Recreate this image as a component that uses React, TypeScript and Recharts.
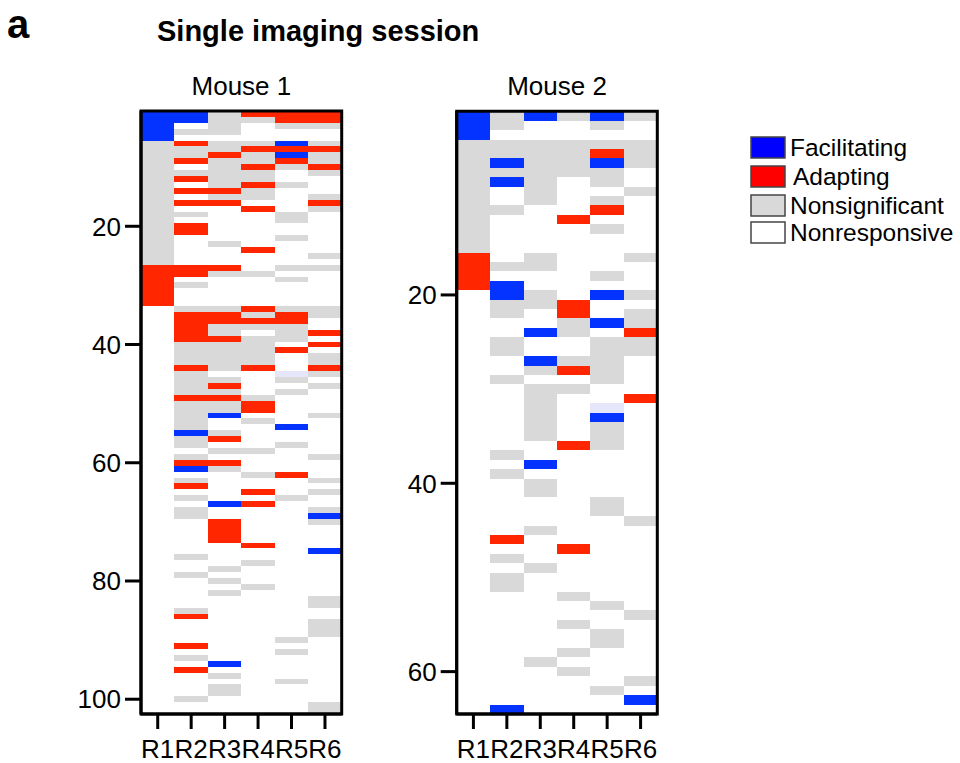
import React from "react";
import { ComposedChart, XAxis, YAxis, ReferenceArea } from "recharts";

// Response classes: F = facilitating, A = adapting, N = nonsignificant,
// L = faint trace. Rows not listed in a column are nonresponsive (white).
type Run = [string, number, number];

const responseLabels = ["R1", "R2", "R3", "R4", "R5", "R6"];

const mouse1RowCount = 102;
const mouse1Ticks = [20, 40, 60, 80, 100];

const m1R1: Run[] = [["F", 1, 5], ["N", 6, 26], ["A", 27, 33]];
const m1R2: Run[] = [
  ["F", 1, 2], ["N", 4, 4], ["A", 6, 6], ["N", 7, 8], ["A", 9, 9], ["N", 11, 11],
  ["A", 12, 12], ["A", 14, 14], ["A", 16, 16], ["N", 18, 18], ["A", 20, 21],
  ["A", 27, 28], ["N", 30, 30], ["N", 34, 34], ["A", 35, 39], ["N", 40, 43],
  ["A", 44, 44], ["N", 45, 48], ["A", 49, 49], ["N", 50, 54], ["F", 55, 55],
  ["N", 56, 57], ["N", 59, 59], ["A", 60, 60], ["F", 61, 61], ["N", 63, 63],
  ["A", 64, 64], ["N", 66, 66], ["N", 68, 69], ["N", 76, 76], ["N", 79, 79],
  ["N", 85, 85], ["A", 86, 86], ["A", 91, 91], ["N", 93, 93], ["A", 95, 95],
  ["N", 100, 100],
];
const m1R3: Run[] = [
  ["N", 1, 4], ["N", 6, 7], ["A", 8, 8], ["N", 9, 13], ["A", 14, 14], ["N", 15, 15],
  ["A", 16, 16], ["N", 23, 23], ["A", 27, 27], ["N", 28, 28], ["N", 34, 34],
  ["A", 35, 36], ["N", 37, 38], ["A", 39, 39], ["N", 40, 44], ["N", 46, 46],
  ["A", 47, 47], ["N", 48, 48], ["A", 49, 49], ["N", 50, 51], ["F", 52, 52],
  ["N", 55, 55], ["A", 56, 56], ["N", 58, 58], ["A", 60, 60], ["N", 61, 61],
  ["F", 67, 67], ["A", 70, 73], ["N", 78, 78], ["N", 80, 80], ["N", 82, 82],
  ["F", 94, 94], ["N", 96, 96], ["N", 98, 99],
];
const m1R4: Run[] = [
  ["A", 1, 1], ["N", 2, 2], ["N", 6, 6], ["A", 7, 7], ["N", 8, 9], ["A", 10, 10],
  ["N", 11, 12], ["A", 13, 13], ["N", 14, 15], ["A", 17, 17], ["A", 24, 24],
  ["N", 28, 28], ["A", 34, 34], ["N", 35, 35], ["A", 36, 36], ["N", 37, 37],
  ["N", 39, 43], ["A", 44, 44], ["N", 49, 49], ["A", 50, 51], ["N", 53, 53],
  ["N", 58, 58], ["N", 62, 62], ["A", 65, 65], ["A", 67, 67], ["A", 74, 74],
  ["N", 77, 77], ["N", 81, 81],
];
const m1R5: Run[] = [
  ["A", 1, 2], ["N", 3, 3], ["F", 6, 6], ["A", 7, 7], ["F", 8, 8], ["A", 9, 9],
  ["N", 10, 10], ["N", 13, 13], ["N", 18, 19], ["N", 22, 22], ["N", 27, 27],
  ["N", 29, 29], ["N", 34, 34], ["A", 35, 36], ["N", 37, 39], ["A", 41, 41],
  ["L", 45, 45], ["N", 46, 46], ["N", 48, 48], ["F", 54, 54], ["N", 57, 57],
  ["A", 62, 62], ["N", 66, 66], ["N", 90, 90], ["N", 92, 92], ["N", 97, 97],
];
const m1R6: Run[] = [
  ["A", 1, 2], ["N", 3, 3], ["N", 6, 6], ["A", 7, 7], ["N", 8, 9], ["A", 10, 10],
  ["N", 11, 11], ["N", 15, 15], ["A", 16, 16], ["N", 17, 17], ["N", 25, 25],
  ["N", 27, 27], ["N", 34, 35], ["A", 38, 38], ["A", 40, 40], ["N", 42, 43],
  ["A", 44, 44], ["N", 45, 45], ["N", 47, 47], ["N", 52, 52], ["N", 59, 59],
  ["N", 63, 63], ["N", 65, 65], ["N", 68, 68], ["F", 69, 69], ["N", 70, 70],
  ["F", 75, 75], ["N", 83, 84], ["N", 87, 89], ["N", 101, 102],
];

const mouse2RowCount = 64;
const mouse2Ticks = [20, 40, 60];

const m2R1: Run[] = [["F", 1, 3], ["N", 4, 15], ["A", 16, 19]];
const m2R2: Run[] = [
  ["N", 1, 2], ["N", 4, 5], ["F", 6, 6], ["N", 7, 7], ["F", 8, 8], ["N", 11, 11],
  ["N", 17, 17], ["F", 19, 20], ["N", 21, 22], ["N", 25, 26], ["N", 29, 29],
  ["N", 37, 37], ["N", 39, 39], ["A", 46, 46], ["N", 48, 48], ["N", 50, 51],
  ["F", 64, 64],
];
const m2R3: Run[] = [
  ["F", 1, 1], ["N", 4, 10], ["N", 16, 17], ["N", 20, 21], ["F", 24, 24],
  ["F", 27, 27], ["N", 28, 28], ["N", 30, 35], ["F", 38, 38], ["N", 40, 41],
  ["N", 45, 45], ["N", 49, 49], ["N", 59, 59],
];
const m2R4: Run[] = [
  ["N", 1, 1], ["N", 4, 7], ["A", 12, 12], ["A", 21, 22], ["N", 23, 24],
  ["N", 27, 27], ["A", 28, 28], ["N", 30, 30], ["A", 36, 36], ["A", 47, 47],
  ["N", 52, 52], ["N", 55, 55], ["N", 58, 58], ["N", 60, 60],
];
const m2R5: Run[] = [
  ["F", 1, 1], ["N", 2, 2], ["N", 4, 4], ["A", 5, 5], ["F", 6, 6], ["N", 7, 8],
  ["N", 10, 10], ["A", 11, 11], ["N", 13, 13], ["N", 18, 18], ["F", 20, 20],
  ["F", 23, 23], ["N", 25, 29], ["L", 32, 32], ["F", 33, 33], ["N", 34, 36],
  ["N", 42, 43], ["N", 53, 53], ["N", 56, 57], ["N", 62, 62],
];
const m2R6: Run[] = [
  ["N", 1, 1], ["N", 4, 6], ["N", 9, 9], ["N", 16, 16], ["N", 20, 20],
  ["N", 22, 23], ["A", 24, 24], ["N", 25, 26], ["A", 31, 31], ["N", 44, 44],
  ["N", 54, 54], ["N", 61, 61], ["F", 63, 63],
];

const legendItems = [
  { label: "Facilitating", color: "#0000FF" },
  { label: "Adapting", color: "#FF0000" },
  { label: "Nonsignificant", color: "#D9D9D9" },
  { label: "Nonresponsive", color: "#FFFFFF" },
];

const cellColors: Record<string, string> = {
  F: "#0433FF",
  A: "#FF2600",
  N: "#D9D9D9",
  L: "#E6E6FA",
};

const FONT = "'Liberation Sans', Arial, sans-serif";

type HeatmapProps = {
  columns: Run[][];
  rowCount: number;
  ticks: number[];
  width: number;
  left: number;
  margin: { top: number; right: number; bottom: number; left: number };
};

function Heatmap({ columns, rowCount, ticks, width, left, margin }: HeatmapProps) {
  const cells = columns.flatMap((runs, ci) =>
    runs.map(([state, from, to]) => ({ col: ci + 1, state, from, to }))
  );
  const axisStroke = { stroke: "#000", strokeWidth: 3 };
  return (
    <div style={{ position: "absolute", left, top: 0 }}>
      <ComposedChart width={width} height={763} margin={margin} data={[]}>
        <XAxis
          type="number"
          dataKey="x"
          domain={[0.5, 6.5]}
          allowDataOverflow
          ticks={[1, 2, 3, 4, 5, 6]}
          interval={0}
          tickFormatter={(v: number) => responseLabels[v - 1]}
          height={49}
          tickSize={15}
          tickMargin={11}
          axisLine={axisStroke}
          tickLine={axisStroke}
          tick={{ fontSize: 26, fill: "#000", fontFamily: FONT }}
        />
        <YAxis
          type="number"
          dataKey="y"
          domain={[0.5, rowCount + 0.5]}
          allowDataOverflow
          reversed
          ticks={ticks}
          interval={0}
          width={60}
          tickSize={16}
          tickMargin={4}
          axisLine={axisStroke}
          tickLine={axisStroke}
          tick={{ fontSize: 26, fill: "#000", fontFamily: FONT }}
        />
        {cells.map((c, i) => (
          <ReferenceArea
            key={i}
            x1={c.col - 0.5}
            x2={c.col + 0.5}
            y1={c.from - 0.5}
            y2={c.to + 0.5}
            fill={cellColors[c.state]}
            fillOpacity={1}
            stroke="none"
            shapeRendering="crispEdges"
            ifOverflow="visible"
          />
        ))}
        <ReferenceArea
          x1={0.5}
          x2={6.5}
          y1={0.5}
          y2={rowCount + 0.5}
          fill="none"
          fillOpacity={0}
          stroke="#000"
          strokeWidth={3}
          ifOverflow="visible"
        />
      </ComposedChart>
    </div>
  );
}

export default function App() {
  return (
    <div
      style={{
        position: "absolute",
        left: 0,
        top: 0,
        width: 960,
        height: 763,
        background: "#fff",
        overflow: "hidden",
        fontFamily: FONT,
      }}
    >
      <Heatmap
        columns={[m1R1, m1R2, m1R3, m1R4, m1R5, m1R6]}
        rowCount={mouse1RowCount}
        ticks={mouse1Ticks}
        width={360}
        left={0}
        margin={{ top: 111, right: 18.3, bottom: 0, left: 81 }}
      />
      <Heatmap
        columns={[m2R1, m2R2, m2R3, m2R4, m2R5, m2R6]}
        rowCount={mouse2RowCount}
        ticks={mouse2Ticks}
        width={300}
        left={380}
        margin={{ top: 111.3, right: 22.7, bottom: 0, left: 16.7 }}
      />
      <svg
        width={960}
        height={763}
        style={{ position: "absolute", left: 0, top: 0, pointerEvents: "none" }}
        fontFamily={FONT}
      >
        <text x={7} y={38} fontSize={40} fontWeight="bold" fill="#000">a</text>
        <text x={157} y={41} fontSize={29} fontWeight="bold" fill="#000">
          Single imaging session
        </text>
        <text x={241.4} y={95} fontSize={26} textAnchor="middle" fill="#000">Mouse 1</text>
        <text x={557} y={95} fontSize={26} textAnchor="middle" fill="#000">Mouse 2</text>
        {legendItems.map((item, i) => {
          const tops = [137, 166, 195, 222];
          return (
            <g key={item.label}>
              <rect
                x={751}
                y={tops[i]}
                width={34}
                height={21}
                fill={item.color}
                stroke="#444"
                strokeWidth={1.5}
              />
              <text
                x={i === 1 ? 793 : 790}
                y={tops[i] + 19}
                fontSize={24.5}
                fill="#000"
              >
                {item.label}
              </text>
            </g>
          );
        })}
      </svg>
    </div>
  );
}
